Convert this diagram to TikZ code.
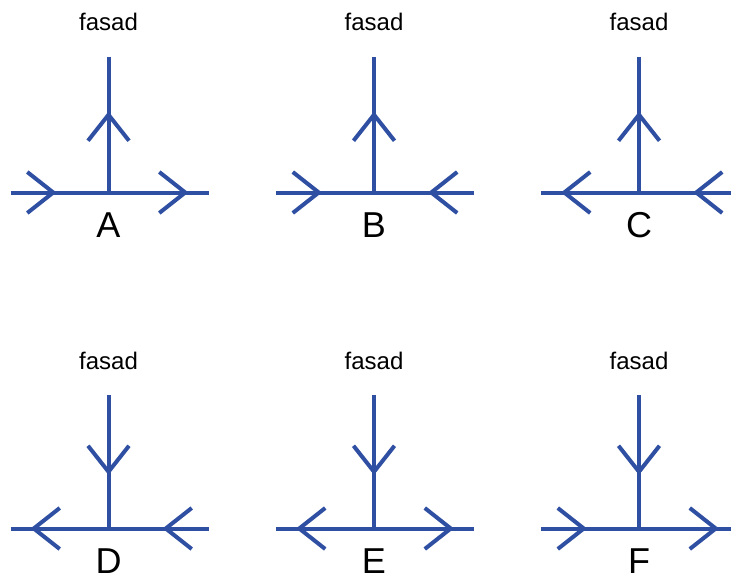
\documentclass[tikz,border=0pt]{standalone}
\usepackage{fontspec}
\setmainfont{Liberation Sans}
\usetikzlibrary{arrows.meta,decorations.markings}
\definecolor{pipeblue}{RGB}{47, 79, 162}
\tikzset{
  chev/.tip={Straight Barb[length=26pt, width=41pt, line width=4pt]},
  wire/.style={draw=pipeblue, line width=4pt},
  inward/.style={postaction={decorate, decoration={markings, mark=at position #1 with {\arrow[pipeblue]{chev}}}}},
  outward/.style={postaction={decorate, decoration={markings, mark=at position #1 with {\arrowreversed[pipeblue]{chev}}}}},
  facade/.style={font=\fontsize{24}{28}\selectfont, anchor=base, inner sep=0pt},
  caselabel/.style={font=\fontsize{36}{42}\selectfont, anchor=base, inner sep=0pt}
}

\begin{document}
\begin{tikzpicture}[x=1pt, y=-1pt]
    \useasboundingbox (0,0) rectangle (731,579);

    % Case A
    \coordinate (jA) at (108.5,192.5);
    \coordinate (lA) at (10.5,192.5);
    \coordinate (rA) at (208.5,192.5);
    \coordinate (tA) at (108.5,57);
    \draw[wire, inward=46pt] (lA) -- (jA);
    \draw[wire, outward=20pt] (rA) -- (jA);
    \draw[wire, outward=54.5pt] (tA) -- (jA);
    \node[facade] (fA) at (108.5,30) {fasad};
    \node[caselabel] (labA) at (108.5,237) {A};

    % Case B
    \coordinate (jB) at (374,192.5);
    \coordinate (lB) at (276,192.5);
    \coordinate (rB) at (474,192.5);
    \coordinate (tB) at (374,57);
    \draw[wire, inward=46pt] (lB) -- (jB);
    \draw[wire, inward=46pt] (rB) -- (jB);
    \draw[wire, outward=54.5pt] (tB) -- (jB);
    \node[facade] (fB) at (374,30) {fasad};
    \node[caselabel] (labB) at (374,237) {B};

    % Case C
    \coordinate (jC) at (639,192.5);
    \coordinate (lC) at (541,192.5);
    \coordinate (rC) at (739,192.5);
    \coordinate (tC) at (639,57);
    \draw[wire, outward=20pt] (lC) -- (jC);
    \draw[wire, inward=46pt] (rC) -- (jC);
    \draw[wire, outward=54.5pt] (tC) -- (jC);
    \node[facade] (fC) at (639,30) {fasad};
    \node[caselabel] (labC) at (639,237) {C};

    % Case D
    \coordinate (jD) at (108.5,528.5);
    \coordinate (lD) at (10.5,528.5);
    \coordinate (rD) at (208.5,528.5);
    \coordinate (tD) at (108.5,395);
    \draw[wire, outward=20pt] (lD) -- (jD);
    \draw[wire, inward=46pt] (rD) -- (jD);
    \draw[wire, inward=80pt] (tD) -- (jD);
    \node[facade] (fD) at (108.5,369) {fasad};
    \node[caselabel] (labD) at (108.5,573) {D};

    % Case E
    \coordinate (jE) at (374,528.5);
    \coordinate (lE) at (276,528.5);
    \coordinate (rE) at (474,528.5);
    \coordinate (tE) at (374,395);
    \draw[wire, outward=20pt] (lE) -- (jE);
    \draw[wire, outward=20pt] (rE) -- (jE);
    \draw[wire, inward=80pt] (tE) -- (jE);
    \node[facade] (fE) at (374,369) {fasad};
    \node[caselabel] (labE) at (374,573) {E};

    % Case F
    \coordinate (jF) at (639,528.5);
    \coordinate (lF) at (541,528.5);
    \coordinate (rF) at (739,528.5);
    \coordinate (tF) at (639,395);
    \draw[wire, inward=46pt] (lF) -- (jF);
    \draw[wire, outward=20pt] (rF) -- (jF);
    \draw[wire, inward=80pt] (tF) -- (jF);
    \node[facade] (fF) at (639,369) {fasad};
    \node[caselabel] (labF) at (639,573) {F};
\end{tikzpicture}
\end{document}
